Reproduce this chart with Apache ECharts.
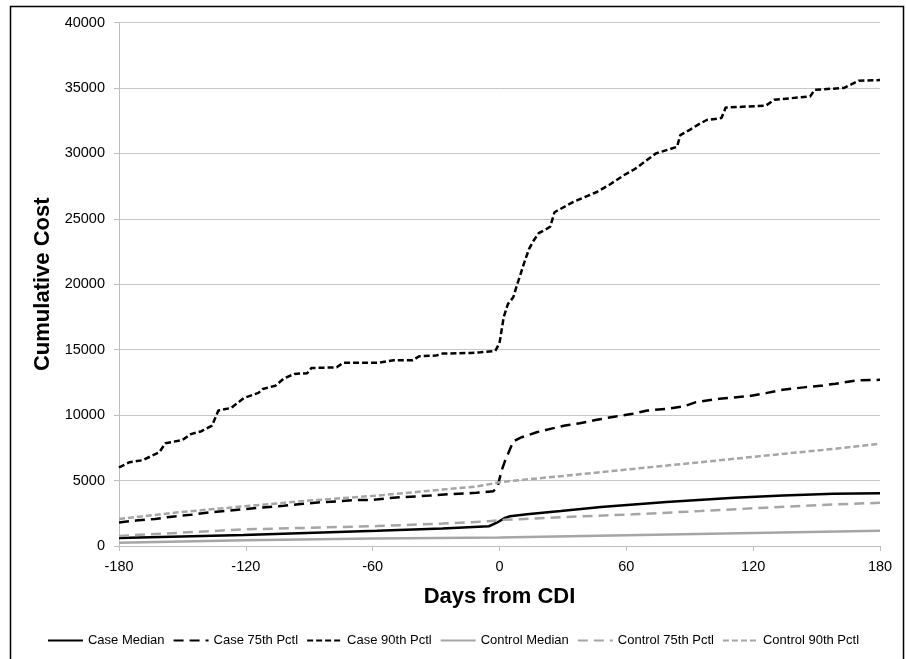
<!DOCTYPE html>
<html>
<head>
<meta charset="utf-8">
<script src="https://cdn.jsdelivr.net/npm/echarts@6/dist/echarts.min.js"></script>
<style>html,body{margin:0;padding:0;background:#fff;}#main{width:906px;height:659px;}</style>
</head>
<body>
<div id="main"></div>
<script>
// ---- data (days from CDI, cumulative cost) ----
const seriesNames = ['Case Median', 'Case 75th Pctl', 'Case 90th Pctl', 'Control Median', 'Control 75th Pctl', 'Control 90th Pctl'];

const caseMedDays = [-180, -121, -58, -27, -5, -1.5, 1, 2.6, 5, 13, 29, 48, 79, 111, 134, 158, 180];
const caseMedVals = [620, 840, 1160, 1340, 1510, 1760, 2000, 2150, 2270, 2420, 2670, 2980, 3360, 3690, 3860, 3990, 4040];

const case75Days = [-180, -172, -163, -155, -145, -137, -128, -120, -112, -102, -94, -85, -77, -68, -60, -52, -42, -33, -22, -11, -3, -1, 1, 2.6, 4.2, 6.5, 10.5, 17.6, 24, 31, 38, 46, 55, 63, 70, 79, 87, 93, 104, 118, 126, 134, 145, 153, 159, 169, 180];
const case75Vals = [1800, 1940, 2070, 2240, 2400, 2570, 2700, 2830, 2950, 3080, 3210, 3340, 3410, 3520, 3520, 3670, 3770, 3850, 3980, 4060, 4180, 4480, 5760, 6500, 7100, 8000, 8310, 8690, 8950, 9200, 9380, 9640, 9900, 10100, 10350, 10480, 10660, 10990, 11250, 11450, 11680, 11940, 12140, 12270, 12400, 12650, 12700];

const case90Days = [-180, -175, -169, -161, -158, -150, -146, -141, -136, -133, -127, -121, -114, -112, -106, -102, -97, -91, -89, -77, -74, -57, -50, -41, -38, -30, -27, -14, -9, -2, 0, 2, 4, 6.5, 8, 10, 12, 14, 16, 18.5, 22, 24, 26, 35, 46, 52, 59, 64, 69, 74, 84, 85.5, 90, 94, 98, 105, 107, 126, 130, 147, 149, 163, 170, 180];
const case90Vals = [6000, 6400, 6550, 7150, 7850, 8100, 8550, 8770, 9200, 10350, 10550, 11300, 11700, 12000, 12250, 12800, 13150, 13200, 13600, 13650, 14000, 14000, 14200, 14200, 14500, 14550, 14700, 14750, 14800, 14900, 15500, 17500, 18500, 19000, 19800, 20800, 21800, 22700, 23300, 23900, 24200, 24400, 25500, 26300, 27050, 27600, 28350, 28800, 29400, 30000, 30500, 31400, 31800, 32200, 32550, 32700, 33500, 33650, 34100, 34350, 34850, 35000, 35550, 35600];

const ctrlMedDays = [-180, -120, -60, 0, 60, 120, 180];
const ctrlMedVals = [250, 440, 580, 650, 830, 990, 1160];

const ctrl75Days = [-180, -121, -58, -27, -5, 2, 32, 63, 95, 126, 158, 180];
const ctrl75Vals = [770, 1270, 1520, 1720, 1890, 2000, 2220, 2420, 2670, 2930, 3180, 3300];

const ctrl90Days = [-180, -152, -121, -90, -58, -27, -11, 0, 4, 32, 63, 95, 126, 158, 180];
const ctrl90Vals = [2070, 2570, 3030, 3470, 3850, 4310, 4540, 4870, 4950, 5380, 5890, 6400, 6910, 7420, 7810];

const xTicks = [-180, -120, -60, 0, 60, 120, 180];

// ---- build ----
function pairs(d, v) { return d.map((x, i) => [x, v[i]]); }
const GREY = '#a6a6a6';
const styles = [
  { color: '#000', type: 'solid' },
  { color: '#000', type: [10, 6] },
  { color: '#000', type: [6, 3] },
  { color: GREY, type: 'solid' },
  { color: GREY, type: [10, 6] },
  { color: GREY, type: [6, 3] }
];
const dataSets = [
  pairs(caseMedDays, caseMedVals),
  pairs(case75Days, case75Vals),
  pairs(case90Days, case90Vals),
  pairs(ctrlMedDays, ctrlMedVals),
  pairs(ctrl75Days, ctrl75Vals),
  pairs(ctrl90Days, ctrl90Vals)
];

const chart = echarts.init(document.getElementById('main'), null, { renderer: 'canvas' });
chart.setOption({
  animation: false,
  backgroundColor: '#fff',
  graphic: [{
    type: 'rect', z: -10, silent: true,
    shape: { x: 10.5, y: 6.5, width: 893, height: 700 },
    style: { fill: 'none', stroke: '#000', lineWidth: 1.5 }
  }],
  grid: { left: 119, right: 26, top: 22.5, bottom: 113, containLabel: false },
  legend: {
    data: seriesNames,
    top: 629,
    left: 'center',
    itemWidth: 35,
    itemHeight: 12,
    itemGap: 8,
    itemStyle: { opacity: 0 },
    textStyle: { fontFamily: 'Liberation Sans', fontSize: 13, color: '#000' }
  },
  xAxis: {
    type: 'value', min: xTicks[0], max: xTicks[xTicks.length - 1], interval: 60,
    axisLine: { show: true, onZero: false, lineStyle: { color: '#bfbfbf', width: 1 } },
    axisTick: { show: true, length: 5, lineStyle: { color: '#bfbfbf' } },
    splitLine: { show: false },
    axisLabel: { color: '#000', fontFamily: 'Liberation Sans', fontSize: 14.5, margin: 13 },
    name: 'Days from CDI', nameLocation: 'middle', nameGap: 40,
    nameTextStyle: { color: '#000', fontFamily: 'Liberation Sans', fontWeight: 'bold', fontSize: 22 }
  },
  yAxis: {
    type: 'value', min: 0, max: 40000, interval: 5000,
    axisLine: { show: true, onZero: false, lineStyle: { color: '#bfbfbf', width: 1 } },
    axisTick: { show: true, length: 5, lineStyle: { color: '#bfbfbf' } },
    splitLine: { show: true, lineStyle: { color: '#c6c6c6', width: 1 } },
    axisLabel: { color: '#000', fontFamily: 'Liberation Sans', fontSize: 14.5, margin: 14, formatter: v => String(v) },
    name: 'Cumulative Cost', nameLocation: 'middle', nameGap: 49,
    nameTextStyle: { color: '#000', fontFamily: 'Liberation Sans', fontWeight: 'bold', fontSize: 22 }
  },
  series: seriesNames.map((n, i) => ({
    name: n, type: 'line', data: dataSets[i],
    symbol: 'none', showSymbol: false, smooth: false,
    itemStyle: { color: styles[i].color },
    lineStyle: { color: styles[i].color, width: 2.5, type: styles[i].type, cap: 'butt' },
    z: 2 + i
  }))
});
</script>
</body>
</html>
